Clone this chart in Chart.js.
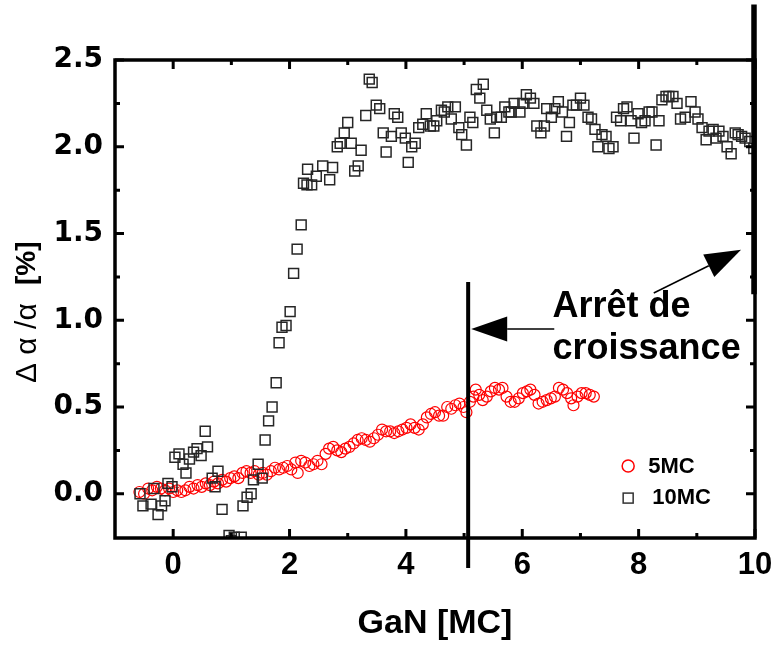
<!DOCTYPE html>
<html><head><meta charset="utf-8">
<script src="https://cdn.jsdelivr.net/npm/chart.js@4.4.0/dist/chart.umd.min.js"></script>
<style>html,body{margin:0;padding:0;background:#fff}#wrap{width:775px;height:645px}</style>
</head><body><div id="wrap"><canvas id="c" width="775" height="645"></canvas></div>
<script>
// ---- data ----
const seriesNames = ['5MC', '10MC'];
const series5MC = [[-0.58,0.01],[-0.5,0.0],[-0.43,0.03],[-0.36,0.02],[-0.28,0.04],[-0.21,0.03],[-0.14,0.02],[-0.07,0.03],[0,0.01],[0.07,0.02],[0.14,0.01],[0.21,0.02],[0.28,0.04],[0.35,0.03],[0.42,0.05],[0.49,0.04],[0.56,0.06],[0.63,0.05],[0.7,0.07],[0.77,0.06],[0.84,0.08],[0.91,0.07],[0.98,0.09],[1.05,0.1],[1.12,0.09],[1.19,0.12],[1.26,0.13],[1.33,0.12],[1.4,0.13],[1.47,0.11],[1.54,0.12],[1.61,0.11],[1.68,0.13],[1.75,0.15],[1.82,0.14],[1.89,0.15],[1.96,0.16],[2.03,0.14],[2.1,0.18],[2.14,0.12],[2.2,0.19],[2.27,0.18],[2.34,0.16],[2.41,0.17],[2.48,0.19],[2.55,0.17],[2.62,0.23],[2.68,0.26],[2.75,0.27],[2.82,0.25],[2.89,0.24],[2.96,0.26],[3.03,0.27],[3.1,0.29],[3.17,0.31],[3.24,0.32],[3.31,0.31],[3.38,0.3],[3.45,0.32],[3.52,0.34],[3.59,0.37],[3.66,0.36],[3.73,0.36],[3.8,0.35],[3.87,0.36],[3.94,0.37],[4.01,0.38],[4.08,0.4],[4.15,0.38],[4.22,0.37],[4.29,0.4],[4.36,0.44],[4.43,0.46],[4.5,0.47],[4.57,0.45],[4.64,0.45],[4.71,0.5],[4.78,0.49],[4.85,0.51],[4.92,0.52],[4.99,0.5],[5.04,0.47],[5.1,0.53],[5.16,0.56],[5.2,0.6],[5.26,0.57],[5.32,0.54],[5.39,0.56],[5.46,0.59],[5.53,0.61],[5.6,0.6],[5.66,0.61],[5.73,0.56],[5.8,0.53],[5.87,0.53],[5.94,0.55],[6.01,0.58],[6.08,0.59],[6.14,0.6],[6.21,0.57],[6.28,0.52],[6.35,0.53],[6.42,0.54],[6.49,0.55],[6.56,0.56],[6.63,0.61],[6.7,0.6],[6.77,0.58],[6.84,0.55],[6.88,0.51],[6.95,0.56],[7.02,0.58],[7.09,0.58],[7.16,0.57],[7.23,0.56]];
const series10MC = [[-0.57,0.0],[-0.52,-0.07],[-0.38,-0.06],[-0.33,0.03],[-0.26,-0.12],[-0.2,-0.07],[-0.14,-0.04],[-0.09,0.06],[-0.02,0.04],[0.03,0.21],[0.1,0.23],[0.17,0.17],[0.22,0.12],[0.28,0.2],[0.35,0.24],[0.41,0.26],[0.48,0.22],[0.55,0.36],[0.59,0.27],[0.67,0.09],[0.72,0.04],[0.77,0.13],[0.84,-0.09],[0.96,-0.24],[1.0,-0.27],[1.05,-0.25],[1.17,-0.25],[1.2,-0.07],[1.27,-0.02],[1.34,0.0],[1.38,0.08],[1.46,0.17],[1.53,0.09],[1.58,0.31],[1.64,0.42],[1.7,0.5],[1.77,0.64],[1.82,0.87],[1.87,0.96],[1.94,0.97],[2.01,1.05],[2.07,1.27],[2.13,1.41],[2.2,1.55],[2.24,1.79],[2.3,1.78],[2.31,1.87],[2.38,1.78],[2.46,1.83],[2.57,1.89],[2.69,1.81],[2.74,1.88],[2.82,2.0],[2.87,2.02],[2.94,2.08],[3.0,2.14],[3.06,2.02],[3.12,1.86],[3.18,1.89],[3.23,1.98],[3.31,2.18],[3.37,2.39],[3.42,2.37],[3.49,2.24],[3.55,2.22],[3.61,2.08],[3.66,1.97],[3.75,2.06],[3.8,2.19],[3.86,2.17],[3.92,2.08],[3.99,2.05],[4.04,1.91],[4.1,2.0],[4.16,2.02],[4.22,2.11],[4.29,2.13],[4.35,2.19],[4.42,2.12],[4.48,2.12],[4.53,2.15],[4.61,2.21],[4.66,2.2],[4.72,2.23],[4.78,2.16],[4.85,2.23],[4.91,2.11],[4.96,2.07],[5.04,2.01],[5.1,2.17],[5.15,2.14],[5.21,2.33],[5.27,2.28],[5.33,2.36],[5.39,2.21],[5.45,2.16],[5.52,2.08],[5.56,2.17],[5.64,2.17],[5.7,2.23],[5.77,2.2],[5.81,2.2],[5.86,2.25],[5.96,2.2],[6.01,2.25],[6.07,2.3],[6.14,2.28],[6.2,2.25],[6.25,2.12],[6.32,2.08],[6.38,2.12],[6.42,2.22],[6.5,2.17],[6.56,2.22],[6.62,2.26],[6.69,2.2],[6.76,2.06],[6.81,2.14],[6.87,2.24],[6.93,2.24],[7.0,2.28],[7.06,2.24],[7.13,2.17],[7.19,2.16],[7.25,2.1],[7.3,2.0],[7.37,2.07],[7.44,2.06],[7.49,1.99],[7.56,2.0],[7.62,2.17],[7.69,2.15],[7.74,2.22],[7.8,2.23],[7.87,2.15],[7.92,2.05],[7.99,2.19],[8.05,2.14],[8.11,2.15],[8.18,2.2],[8.23,2.2],[8.3,2.01],[8.35,2.15],[8.4,2.27],[8.47,2.29],[8.52,2.29],[8.59,2.29],[8.66,2.25],[8.72,2.16],[8.8,2.17],[8.9,2.26],[8.97,2.2],[9.02,2.16],[9.09,2.11],[9.16,2.04],[9.21,2.09],[9.28,2.1],[9.33,2.05],[9.38,2.09],[9.45,2.06],[9.52,2.0],[9.59,1.96],[9.66,2.08],[9.71,2.07],[9.77,2.06],[9.83,2.05],[9.91,2.03],[9.98,1.99]];
const xTickValues = [0, 2, 4, 6, 8, 10];
const xMinorValues = [1, 3, 5, 7, 9];
const yTickValues = [0, 0.5, 1.0, 1.5, 2.0, 2.5];
const yMinorValues = [0.25, 0.75, 1.25, 1.75, 2.25];
const stopMarks = [5.07, 10];
const annotationLines = ['Arrêt de', 'croissance'];
const xTitle = 'GaN [MC]';
const yTitleParts = ['\u0394 \u03b1 /\u03b1', '[%]'];

const SANS = "'Liberation Sans', Arial, sans-serif";

function arrow(ctx, x1, y1, x2, y2, len, half) {
  const ang = Math.atan2(y2 - y1, x2 - x1);
  const bx = x2 - Math.cos(ang) * len, by = y2 - Math.sin(ang) * len;
  ctx.beginPath(); ctx.moveTo(x1, y1); ctx.lineTo(bx, by); ctx.stroke();
  ctx.beginPath();
  ctx.moveTo(x2, y2);
  ctx.lineTo(bx + Math.sin(ang) * half, by - Math.cos(ang) * half);
  ctx.lineTo(bx - Math.sin(ang) * half, by + Math.cos(ang) * half);
  ctx.closePath(); ctx.fill();
}

const deco = {
  id: 'deco',
  afterDatasetsDraw(chart) {
    const {ctx, chartArea: a, scales: {x, y}} = chart;
    ctx.save();
    ctx.strokeStyle = '#000'; ctx.fillStyle = '#000';
    ctx.lineWidth = 3.5;
    ctx.strokeRect(a.left, a.top, a.right - a.left, a.bottom - a.top);
    ctx.lineWidth = 3;
    ctx.beginPath();
    const tx = (vals, L) => vals.forEach(v => { const p = x.getPixelForValue(v);
      ctx.moveTo(p, a.bottom); ctx.lineTo(p, a.bottom - L); ctx.moveTo(p, a.top); ctx.lineTo(p, a.top + L); });
    const ty = (vals, L) => vals.forEach(v => { const p = y.getPixelForValue(v);
      ctx.moveTo(a.left, p); ctx.lineTo(a.left + L, p); ctx.moveTo(a.right, p); ctx.lineTo(a.right - L, p); });
    tx(xTickValues, 9); tx(xMinorValues, 5); ty(yTickValues, 9); ty(yMinorValues, 5);
    ctx.stroke();
    const p5 = x.getPixelForValue(stopMarks[0]);
    ctx.lineWidth = 4;
    ctx.beginPath(); ctx.moveTo(p5, y.getPixelForValue(1.22)); ctx.lineTo(p5, a.bottom + 30); ctx.stroke();
    const p10 = x.getPixelForValue(stopMarks[1]);
    ctx.lineWidth = 5.5;
    ctx.beginPath(); ctx.moveTo(p10 - 1, y.getPixelForValue(2.82)); ctx.lineTo(p10 - 1, y.getPixelForValue(1.15)); ctx.stroke();
    ctx.font = 'bold 36px ' + SANS;
    ctx.textBaseline = 'alphabetic'; ctx.textAlign = 'left';
    const tX = x.getPixelForValue(6.52);
    ctx.fillText(annotationLines[0], tX, y.getPixelForValue(1.02));
    ctx.fillText(annotationLines[1], tX, y.getPixelForValue(0.777));
    ctx.lineWidth = 1.5;
    arrow(ctx, x.getPixelForValue(6.55), y.getPixelForValue(0.95), p5 + 3, y.getPixelForValue(0.95), 36, 12.5);
    arrow(ctx, x.getPixelForValue(8.26), y.getPixelForValue(1.157), x.getPixelForValue(9.76), y.getPixelForValue(1.406), 36, 12.5);
    const lx = x.getPixelForValue(7.82);
    const ly1 = y.getPixelForValue(0.16), ly2 = y.getPixelForValue(-0.025);
    ctx.lineWidth = 1.5;
    ctx.strokeStyle = '#ff0000';
    ctx.beginPath(); ctx.arc(lx, ly1, 6, 0, Math.PI * 2); ctx.stroke();
    ctx.strokeStyle = '#333';
    ctx.strokeRect(lx - 5, ly2 - 5, 10, 10);
    ctx.font = 'bold 22px ' + SANS; ctx.textBaseline = 'middle'; ctx.fillStyle = '#000';
    ctx.fillText(seriesNames[0], lx + 20, ly1 + 1);
    ctx.fillText(seriesNames[1], lx + 24, ly2);
    ctx.save();
    ctx.translate(27, 313); ctx.rotate(-Math.PI / 2);
    ctx.textBaseline = 'middle'; ctx.textAlign = 'left';
    ctx.font = '30px ' + SANS;
    ctx.fillText(yTitleParts[0], -70, 1);
    ctx.font = 'bold 28px ' + SANS;
    ctx.fillText(yTitleParts[1], 28, 0);
    ctx.restore();
    ctx.restore();
  }
};

new Chart(document.getElementById('c'), {
  type: 'scatter',
  data: {
    datasets: [
      { label: seriesNames[0], data: series5MC.map(p => ({x: p[0], y: p[1]})), order: 1,
        pointStyle: 'circle', pointRadius: 5.5, borderColor: '#ff0000', backgroundColor: 'rgba(0,0,0,0)', borderWidth: 1.2 },
      { label: seriesNames[1], data: series10MC.map(p => ({x: p[0], y: p[1]})), order: 0,
        pointStyle: 'rect', pointRadius: 7, borderColor: '#262626', backgroundColor: 'rgba(0,0,0,0)', borderWidth: 1.5 }
    ]
  },
  options: {
    responsive: false, animation: false, devicePixelRatio: 1,
    layout: { padding: { top: 60, right: 20, left: 0, bottom: 0 } },
    plugins: { legend: { display: false }, tooltip: { enabled: false } },
    scales: {
      x: {
        type: 'linear', min: -1, max: 10,
        grid: { display: false, drawTicks: false }, border: { display: false },
        afterBuildTicks: s => { s.ticks = xTickValues.map(v => ({value: v})); },
        afterFit: s => { s.height = 107; s.paddingLeft = 0; s.paddingRight = 0; },
        ticks: { color: '#000', padding: 9, maxRotation: 0, autoSkip: false,
                 font: { family: SANS, size: 31, weight: 'bold' }, callback: v => String(v) },
        title: { display: true, text: xTitle, color: '#000',
                 font: { family: SANS, size: 34, weight: 'bold' }, padding: { top: 0, bottom: 1 } }
      },
      y: {
        type: 'linear', min: -0.255, max: 2.5,
        grid: { display: false, drawTicks: false }, border: { display: false },
        afterBuildTicks: s => { s.ticks = yTickValues.map(v => ({value: v})); },
        afterFit: s => { s.width = 115; s.paddingTop = 0; s.paddingBottom = 0; },
        ticks: { color: '#000', padding: 12, autoSkip: false,
                 font: { family: "'DejaVu Sans', sans-serif", size: 28, weight: 'bold' }, callback: v => Number(v).toFixed(1) }
      }
    }
  },
  plugins: [deco]
});
</script>
</body></html>
